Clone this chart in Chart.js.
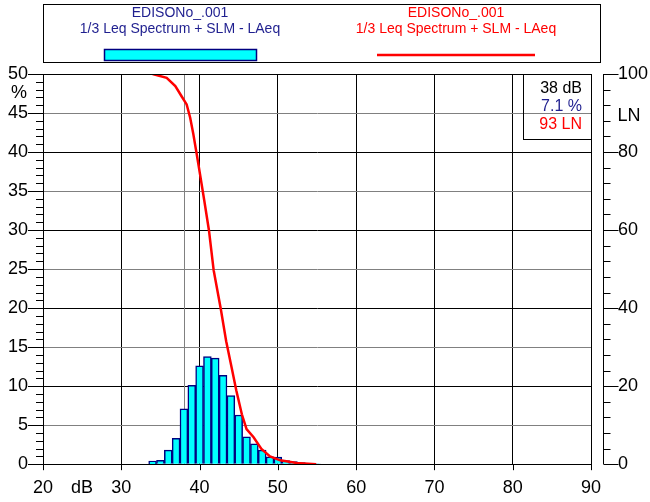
<!DOCTYPE html>
<html>
<head>
<meta charset="utf-8">
<script src="https://cdn.jsdelivr.net/npm/chart.js@4"></script>
<style>
  body { margin: 0; background: #fff; }
  #myChart { display: block; }
</style>
</head>
<body>
<canvas id="myChart" width="650" height="502"></canvas>
<script>
// histogram bins (dB) and their share of time (%)
const bin_db = [34, 35, 36, 37, 38, 39, 40, 41, 42, 43, 44, 45, 46, 47, 48, 49, 50, 51, 52, 53, 54, 55];
const bin_pct = [0.4, 0.5, 1.8, 3.3, 7.1, 10.1, 12.6, 13.8, 13.6, 11.4, 8.8, 6.3, 3.5, 2.6, 1.8, 0.95, 0.9, 0.45, 0.35, 0.2, 0.1, 0.05];

// LN curve
const ln_db = [34.0, 35.8, 36.9, 37.7, 38.35, 38.8, 39.2, 39.6, 40.05, 40.6, 41.2, 41.8, 42.7, 43.4, 44.1, 44.7, 45.4, 46.0, 46.9, 47.9, 49.0, 50.3, 52.4, 54.9];
const ln_val = [100, 99.0, 96.9, 94.3, 92.2, 88.8, 84.6, 79.9, 74.4, 67.6, 59.9, 49.7, 39.9, 31.5, 24.7, 18.8, 12.8, 9.0, 6.9, 3.9, 2.0, 1.0, 0.3, 0];

// cursor readout
const cursor_db = 38;
const cursor_pct = 7.1;
const cursor_ln = 93;

const x_min = 20, x_max = 90;
const pct_max = 50, ln_max = 100;

const title_file = "EDISONo_.001";
const title_meas = "1/3 Leq Spectrum + SLM - LAeq";

const FONT = "Arial, 'Liberation Sans', sans-serif";
const NAVY = "#1f1f8f";

// extra bits the library doesn't draw: header box, minor ticks, cursor, readout
const decoPlugin = {
  id: "deco",
  beforeDatasetsDraw(chart) {
    const c = chart.ctx, a = chart.chartArea, xs = chart.scales.x;
    const cx = Math.round(xs.getPixelForValue(cursor_db)) + 0.5;
    c.save();
    c.strokeStyle = "#808080";
    c.lineWidth = 1;
    c.beginPath();
    c.moveTo(cx, a.top);
    c.lineTo(cx, a.bottom);
    c.stroke();
    c.restore();
  },
  afterDraw(chart) {
    const c = chart.ctx, a = chart.chartArea;
    const xs = chart.scales.x, ys = chart.scales.y, yl = chart.scales.yLN;
    c.save();
    c.strokeStyle = "#000";
    c.lineWidth = 1;

    // plot frame
    c.strokeRect(Math.round(a.left) + 0.5, Math.round(a.top) + 0.5,
      Math.round(a.right - a.left), Math.round(a.bottom - a.top));

    // left ticks, minor every 1 %
    c.beginPath();
    for (let v = 0; v <= pct_max; v++) {
      const py = Math.round(ys.getPixelForValue(v)) + 0.5;
      const len = v % 5 === 0 ? 15 : 7;
      c.moveTo(a.left - len, py);
      c.lineTo(a.left, py);
    }
    // right LN axis, detached from the frame
    const rx = Math.round(a.right) + 12.5;
    c.moveTo(rx, a.top);
    c.lineTo(rx, a.bottom);
    for (let v = 0; v <= ln_max; v += 4) {
      const py = Math.round(yl.getPixelForValue(v)) + 0.5;
      const len = v % 20 === 0 ? 15 : 7;
      c.moveTo(rx, py);
      c.lineTo(rx + len, py);
    }
    // bottom ticks
    for (let v = x_min; v <= x_max; v += 10) {
      const px = Math.round(xs.getPixelForValue(v)) + 0.5;
      c.moveTo(px, a.bottom);
      c.lineTo(px, a.bottom + 6);
    }
    c.stroke();

    // unit labels
    c.fillStyle = "#000";
    c.font = "18px " + FONT;
    c.textAlign = "center";
    c.textBaseline = "middle";
    c.fillText("%", 19, 93);
    c.fillText("LN", 629, 116);
    c.fillText("dB", 82, 488);

    // readout box
    const bx = Math.round(xs.getPixelForValue(80)) + 10.5;
    c.strokeRect(bx, Math.round(a.top) + 0.5, Math.round(a.right) - bx + 0.5, 65);
    c.font = "16px " + FONT;
    c.textAlign = "right";
    c.fillStyle = "#000";
    c.fillText(cursor_db + " dB", 582, 89);
    c.fillStyle = NAVY;
    c.fillText(cursor_pct.toFixed(1) + " %", 582, 107);
    c.fillStyle = "#ff0000";
    c.fillText(cursor_ln + " LN", 582, 125);

    // header / legend box
    c.strokeStyle = "#000";
    c.strokeRect(43.5, 4.5, 557, 58);
    c.font = "14px " + FONT;
    c.textAlign = "center";
    c.fillStyle = NAVY;
    c.fillText(title_file, 180, 13);
    c.fillText(title_meas, 180, 29);
    c.fillStyle = "#ff0000";
    c.fillText(title_file, 456, 13);
    c.fillText(title_meas, 456, 29);
    c.fillStyle = "#00ffff";
    c.fillRect(104, 49, 153, 12);
    c.strokeStyle = "#000080";
    c.lineWidth = 1.5;
    c.strokeRect(104.5, 49.5, 152, 11);
    c.strokeStyle = "#ff0000";
    c.lineWidth = 2.5;
    c.beginPath();
    c.moveTo(377, 55);
    c.lineTo(535, 55);
    c.stroke();
    c.restore();
  }
};

const bars = bin_db.map((x, i) => ({ x: x, y: bin_pct[i] }));
const ln_line = ln_db.map((x, i) => ({ x: x, y: ln_val[i] }));

const ctx = document.getElementById("myChart");
new Chart(ctx, {
  type: "bar",
  data: {
    datasets: [
      {
        type: "line",
        data: ln_line,
        yAxisID: "yLN",
        borderColor: "#ff0000",
        borderWidth: 2.5,
        pointRadius: 0,
        tension: 0,
        fill: false,
        order: 0,
      },
      {
        type: "bar",
        data: bars,
        yAxisID: "y",
        backgroundColor: "#00ffff",
        borderColor: "#000080",
        borderWidth: 1.5,
        barPercentage: 1,
        categoryPercentage: 1,
        order: 1,
      },
    ],
  },
  options: {
    responsive: false,
    animation: false,
    devicePixelRatio: 1,
    layout: { padding: { top: 74, left: 0, right: 0, bottom: 0 } },
    plugins: { legend: { display: false }, tooltip: { enabled: false } },
    scales: {
      x: {
        type: "linear",
        min: x_min,
        max: x_max,
        offset: false,
        afterFit: (s) => { s.height = 35; },
        ticks: { stepSize: 10, color: "#000", font: { family: FONT, size: 18 }, padding: 13, maxRotation: 0 },
        grid: { color: "#000", lineWidth: 1, drawTicks: false, offset: false },
        border: { color: "#000" },
      },
      y: {
        position: "left",
        min: 0,
        max: pct_max,
        afterFit: (s) => { s.width = 43; },
        ticks: { stepSize: 5, color: "#000", font: { family: FONT, size: 18 }, padding: 15 },
        grid: {
          color: (c) => (c.tick && c.tick.value % 10 === 0 ? "#000" : "#808080"),
          lineWidth: 1,
          drawTicks: false,
        },
        border: { color: "#000" },
      },
      yLN: {
        position: "right",
        min: 0,
        max: ln_max,
        afterFit: (s) => { s.width = 59; },
        ticks: { stepSize: 20, color: "#000", font: { family: FONT, size: 18 }, padding: 27 },
        grid: { drawOnChartArea: false, drawTicks: false },
        border: { display: false },
      },
    },
  },
  plugins: [decoPlugin],
});
</script>
</body>
</html>
